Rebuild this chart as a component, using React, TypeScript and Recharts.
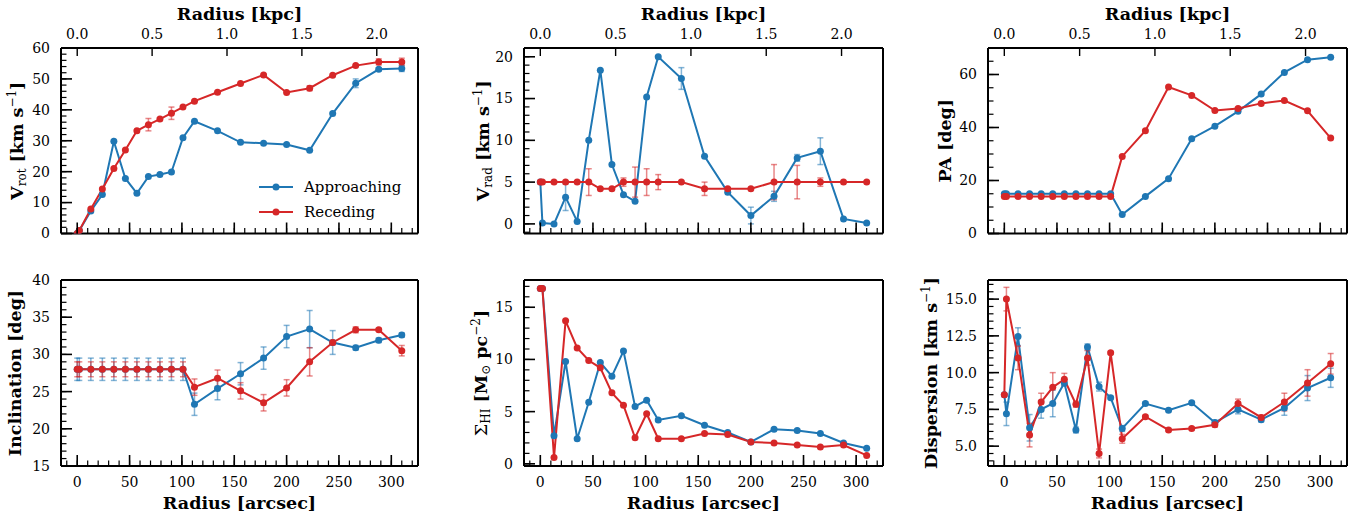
import React from 'react';
import { ComposedChart, Line, XAxis, YAxis, ErrorBar, Legend } from 'recharts';

// radius of each ring, arcsec
const radius = [0, 2, 13, 24, 35, 46, 57, 68, 79, 90, 101, 112, 134, 156, 178, 200, 222, 244, 266, 288, 310];
const KPC_PER_ARCSEC = 0.00699;

// rotation velocity
const vrotApp = [0, 1.0, 7.3, 12.6, 29.8, 17.8, 13.0, 18.4, 19.1, 19.9, 31.0, 36.3, 33.2, 29.5, 29.2, 28.8, 26.9, 38.8, 48.6, 53.1, 53.4];
const vrotAppErr = [0, 0, 0, 0, 0, 0, 0, 0, 0, 0, 0, 0, 0, 0, 0, 0, 0, 0, 1.4, 0.5, 1.0];
const vrotRec = [0, 1.0, 7.9, 14.4, 21.0, 27.0, 33.2, 35.2, 37.0, 38.9, 40.9, 42.8, 45.7, 48.5, 51.3, 45.6, 47.0, 51.2, 54.3, 55.5, 55.5];
const vrotRecErr = [0, 0, 0, 0, 0, 0, 0, 2.0, 0, 2.0, 0, 0, 0, 0, 0, 0, 0.8, 0, 0, 1.0, 1.2];

// radial velocity
const vradApp = [5.0, 0.1, 0.0, 3.2, 0.3, 10.0, 18.4, 7.1, 3.5, 2.7, 15.2, 20.0, 17.4, 8.1, 3.8, 1.0, 3.3, 7.9, 8.7, 0.6, 0.1];
const vradAppErr = [0, 0, 0, 1.6, 0, 0, 0, 0, 0, 0, 0, 0, 1.3, 0, 0, 1.0, 0.6, 0.4, 1.6, 0, 0];
const vradRec = [5, 5, 5, 5, 5, 5, 4.2, 4.2, 5, 5, 5, 5, 5, 4.2, 4.2, 4.2, 5, 5, 5, 5, 5];
const vradRecErr = [0, 0, 0, 0, 0, 1.6, 0, 0, 0.5, 1.8, 1.6, 0.9, 0, 0.8, 0, 0, 2.1, 2.0, 0.5, 0, 0];

// position angle
const paApp = [15, 15, 15, 15, 15, 15, 15, 15, 15, 15, 15, 7.2, 14.0, 20.7, 35.8, 40.5, 46.1, 52.6, 60.8, 65.6, 66.5];
const paRec = [14, 14, 14, 14, 14, 14, 14, 14, 14, 14, 14, 29.1, 38.8, 55.3, 52.1, 46.4, 47.2, 49.1, 50.2, 46.3, 36.0];

// inclination
const incApp = [28, 28, 28, 28, 28, 28, 28, 28, 28, 28, 28, 23.3, 25.4, 27.4, 29.5, 32.4, 33.4, 31.6, 30.9, 31.9, 32.6];
const incAppErr = [1.5, 1.5, 1.5, 1.5, 1.5, 1.5, 1.5, 1.5, 1.5, 1.5, 1.5, 1.5, 1.5, 1.5, 1.5, 1.5, 2.5, 1.6, 0.3, 0.3, 0.3];
const incRec = [28, 28, 28, 28, 28, 28, 28, 28, 28, 28, 28, 25.6, 26.8, 25.1, 23.5, 25.5, 29.0, 31.6, 33.3, 33.3, 30.5];
const incRecErr = [1.0, 1.0, 1.0, 1.0, 1.0, 1.0, 1.0, 1.0, 1.0, 1.0, 1.0, 1.1, 1.1, 1.1, 1.1, 1.1, 1.9, 0.3, 0.4, 0.2, 0.7];

// HI surface density
const sigApp = [16.8, 16.8, 2.7, 9.8, 2.4, 5.9, 9.7, 8.4, 10.8, 5.5, 6.1, 4.2, 4.6, 3.7, 3.0, 2.1, 3.3, 3.2, 2.9, 2.0, 1.5];
const sigRec = [16.8, 16.8, 0.6, 13.7, 11.1, 9.9, 9.2, 6.8, 5.6, 2.5, 4.8, 2.4, 2.4, 2.9, 2.8, 2.1, 2.0, 1.8, 1.6, 1.8, 0.8];

// velocity dispersion
const dispApp = [8.5, 7.2, 12.45, 6.25, 7.5, 7.9, 9.3, 6.1, 11.75, 9.05, 8.3, 6.2, 7.9, 7.45, 7.95, 6.6, 7.5, 6.8, 7.6, 8.95, 9.65];
const dispAppErr = [0, 0.8, 0.6, 0.9, 0.6, 0.9, 0.2, 0.2, 0.2, 0.3, 0.1, 0.2, 0.1, 0.1, 0.1, 0.15, 0.3, 0.15, 0.5, 0.85, 0.65];
const dispRec = [8.5, 15.0, 11.0, 5.75, 8.0, 9.0, 9.55, 7.85, 11.0, 4.5, 11.35, 5.5, 7.0, 6.1, 6.2, 6.45, 7.9, 6.95, 8.0, 9.3, 10.6];
const dispRecErr = [0, 0.8, 0.8, 0.8, 0.6, 1.0, 0.4, 0.2, 0.5, 0.3, 0.1, 0.3, 0.1, 0.1, 0.1, 0.15, 0.3, 0.15, 0.6, 0.9, 0.7];

const xTicks = [0, 50, 100, 150, 200, 250, 300];
const kpcTicks = [0, 0.5, 1.0, 1.5, 2.0];

const BLUE = '#1f77b4';
const RED = '#d62728';
const BLUE_ERR = 'rgba(31,119,180,0.55)';
const RED_ERR = 'rgba(214,39,40,0.55)';
const FONT = "'DejaVu Serif', serif";
const TICK_FS = 14;
const TITLE_FS = 17.5;
const SUB = 12;

const W = 1363;
const H = 519;
const colX = [61, 524, 988];
const colW = [357, 359, 359];
const rowY = [48, 280];
const rowH = [185.5, 186];
const X_DOMAIN: [number, number] = [-15.5, 325.5];
const KPC_DOMAIN: [number, number] = [X_DOMAIN[0] * KPC_PER_ARCSEC, X_DOMAIN[1] * KPC_PER_ARCSEC];
// axes need a non-zero size to be drawn, keep it tiny
const AX = 0.01;

const steps = (a: number, b: number, s: number) => {
  const out: number[] = [];
  for (let v = a; v <= b + 1e-9; v += s) out.push(Math.round(v * 1000) / 1000);
  return out;
};

const spine = { stroke: '#000', strokeWidth: 2 };
const MAJ = 11;
const MIN = 5.5;

const bottomTick = (margin: number, len: number, label: boolean) => (props: any) => {
  const { x, y, payload } = props;
  const ay = y - margin;
  return (
    <g>
      <line x1={x} x2={x} y1={ay} y2={ay - len} stroke="#000" strokeWidth={len > 8 ? 1.6 : 1.2} />
      {label ? (
        <text x={x} y={y} dy="0.71em" textAnchor="middle" fontFamily={FONT} fontSize={TICK_FS} fill="#000">
          {payload.value}
        </text>
      ) : null}
    </g>
  );
};

const topTick = (margin: number) => (props: any) => {
  const { x, y, payload } = props;
  const ay = y + margin;
  return (
    <g>
      <line x1={x} x2={x} y1={ay} y2={ay + 8} stroke="#000" strokeWidth={1.4} />
      <text x={x} y={y} textAnchor="middle" fontFamily={FONT} fontSize={TICK_FS} fill="#000">
        {Number(payload.value).toFixed(1)}
      </text>
    </g>
  );
};

const leftTick = (margin: number, len: number, label: boolean, fmt?: (v: number) => string) => (props: any) => {
  const { x, y, payload } = props;
  const ax = x + margin;
  return (
    <g>
      <line x1={ax} x2={ax + len} y1={y} y2={y} stroke="#000" strokeWidth={len > 8 ? 1.6 : 1.2} />
      {label ? (
        <text x={x} y={y} dy="0.35em" textAnchor="end" fontFamily={FONT} fontSize={TICK_FS} fill="#000">
          {fmt ? fmt(payload.value) : payload.value}
        </text>
      ) : null}
    </g>
  );
};

const VelLabel = ({ sub }: { sub: string }) => (
  <>
    V
    <tspan fontSize={SUB} fontWeight="normal" dy={3}>{sub}</tspan>
    <tspan dy={-3}> [km s</tspan>
    <tspan fontSize={SUB} fontWeight="normal" dy={-7}>−1</tspan>
    <tspan dy={7}>]</tspan>
  </>
);

const yTitles: Record<string, React.ReactNode> = {
  vrot: <VelLabel sub="rot" />,
  vrad: <VelLabel sub="rad" />,
  pa: 'PA [deg]',
  inc: 'Inclination [deg]',
  sig: (
    <>
      <tspan fontWeight="normal">Σ</tspan>
      <tspan fontSize={SUB} fontWeight="normal" dy={3}>HI</tspan>
      <tspan dy={-3}> [M</tspan>
      <tspan fontSize={SUB} fontWeight="normal" dy={3}>⊙</tspan>
      <tspan dy={-3}> pc</tspan>
      <tspan fontSize={SUB} fontWeight="normal" dy={-7}>−2</tspan>
      <tspan dy={7}>]</tspan>
    </>
  ),
  disp: (
    <>
      Dispersion [km s
      <tspan fontSize={SUB} fontWeight="normal" dy={-7}>−1</tspan>
      <tspan dy={7}>]</tspan>
    </>
  ),
};

const renderLegend = (props: any) => {
  const items = props.payload || [];
  return (
    <div style={{ fontFamily: FONT, fontSize: 15, color: '#000' }}>
      {items.map((it: any) => (
        <div key={it.value} style={{ display: 'flex', alignItems: 'center', height: 25 }}>
          <svg width={34} height={10} style={{ marginRight: 11 }}>
            <line x1={0} x2={34} y1={5} y2={5} stroke={it.color} strokeWidth={2} />
            <circle cx={17} cy={5} r={3.5} fill={it.color} />
          </svg>
          <span>{it.value}</span>
        </div>
      ))}
    </div>
  );
};

type PanelProps = {
  col: number;
  row: number;
  app: number[];
  rec: number[];
  appErr?: number[];
  recErr?: number[];
  yDomain: [number, number];
  yTicks: number[];
  yMinor: number[];
  yFmt?: (v: number) => string;
  title: string;
  titleX: number;
  legend?: boolean;
};

function Panel(p: PanelProps) {
  const x0 = colX[p.col];
  const w = colW[p.col];
  const y0 = rowY[p.row];
  const h = rowH[p.row];
  const top = p.row === 0;
  const cx = x0 + w / 2;
  const cy = y0 + h / 2;
  const data = radius.map((r, i) => ({
    r,
    app: p.app[i],
    rec: p.rec[i],
    appErr: p.appErr ? p.appErr[i] : 0,
    recErr: p.recErr ? p.recErr[i] : 0,
  }));

  return (
    <div style={{ position: 'absolute', left: 0, top: 0 }}>
      <ComposedChart
        width={W}
        height={H}
        data={data}
        margin={{ left: x0 - 2 * AX, top: y0 - AX, right: W - x0 - w - AX, bottom: H - y0 - h - 2 * AX }}
      >
        <Line
          xAxisId="b"
          yAxisId="l"
          dataKey="app"
          name="Approaching"
          type="linear"
          stroke={BLUE}
          strokeWidth={2}
          dot={{ r: 3.5, fill: BLUE, stroke: BLUE, strokeWidth: 0 }}
          activeDot={false}
          isAnimationActive={false}
        >
          <ErrorBar dataKey="appErr" direction="y" width={3} stroke={BLUE_ERR} strokeWidth={1.5} isAnimationActive={false} />
        </Line>
        <Line
          xAxisId="b"
          yAxisId="l"
          dataKey="rec"
          name="Receding"
          type="linear"
          stroke={RED}
          strokeWidth={2}
          dot={{ r: 3.5, fill: RED, stroke: RED, strokeWidth: 0 }}
          activeDot={false}
          isAnimationActive={false}
        >
          <ErrorBar dataKey="recErr" direction="y" width={3} stroke={RED_ERR} strokeWidth={1.5} isAnimationActive={false} />
        </Line>

        <XAxis
          xAxisId="b"
          dataKey="r"
          type="number"
          orientation="bottom"
          domain={X_DOMAIN}
          allowDataOverflow
          ticks={xTicks}
          interval={0}
          height={AX}
          tickSize={0}
          tickLine={false}
          tickMargin={11}
          axisLine={spine}
          tick={bottomTick(11, MAJ, !top)}
          label={
            top
              ? undefined
              : {
                  content: () => (
                    <text x={cx} y={509} textAnchor="middle" fontFamily={FONT} fontSize={TITLE_FS} fontWeight="bold" fill="#000">
                      Radius [arcsec]
                    </text>
                  ),
                }
          }
        />
        <XAxis
          xAxisId="bm"
          dataKey="r"
          type="number"
          orientation="bottom"
          domain={X_DOMAIN}
          allowDataOverflow
          ticks={steps(-10, 320, 10)}
          interval={0}
          height={AX}
          tickSize={0}
          tickLine={false}
          tickMargin={11}
          axisLine={false}
          tick={bottomTick(11, MIN, false)}
        />
        <XAxis
          xAxisId="t"
          dataKey="r"
          type="number"
          orientation="top"
          domain={KPC_DOMAIN}
          allowDataOverflow
          ticks={top ? kpcTicks : []}
          interval={0}
          height={AX}
          tickSize={0}
          tickLine={false}
          tickMargin={9.5}
          axisLine={spine}
          tick={top ? topTick(9.5) : false}
          label={
            top
              ? {
                  content: () => (
                    <text x={cx} y={19.5} textAnchor="middle" fontFamily={FONT} fontSize={TITLE_FS} fontWeight="bold" fill="#000">
                      Radius [kpc]
                    </text>
                  ),
                }
              : undefined
          }
        />
        <YAxis
          yAxisId="l"
          type="number"
          orientation="left"
          domain={p.yDomain}
          allowDataOverflow
          ticks={p.yTicks}
          interval={0}
          width={AX}
          tickSize={0}
          tickLine={false}
          tickMargin={11}
          axisLine={spine}
          tick={leftTick(11, MAJ, true, p.yFmt)}
          label={{
            content: () => (
              <text
                transform={`translate(${p.titleX},${cy}) rotate(-90)`}
                textAnchor="middle"
                fontFamily={FONT}
                fontSize={TITLE_FS}
                fontWeight="bold"
                fill="#000"
              >
                {yTitles[p.title]}
              </text>
            ),
          }}
        />
        <YAxis
          yAxisId="lm"
          type="number"
          orientation="left"
          domain={p.yDomain}
          allowDataOverflow
          ticks={p.yMinor}
          interval={0}
          width={AX}
          tickSize={0}
          tickLine={false}
          tickMargin={11}
          axisLine={false}
          tick={leftTick(11, MIN, false)}
        />
        <YAxis
          yAxisId="r"
          type="number"
          orientation="right"
          domain={p.yDomain}
          allowDataOverflow
          width={AX}
          tick={false}
          tickLine={false}
          axisLine={spine}
        />
        {p.legend ? (
          <Legend
            content={renderLegend}
            layout="horizontal"
            verticalAlign="middle"
            align="center"
            wrapperStyle={{ left: 259, top: 174, width: 160 }}
          />
        ) : null}
      </ComposedChart>
    </div>
  );
}

const fmt1 = (v: number) => v.toFixed(1);

export default function App() {
  return (
    <div style={{ position: 'absolute', left: 0, top: 0, width: W, height: H, background: '#fff', overflow: 'hidden' }}>
      <Panel col={0} row={0} app={vrotApp} rec={vrotRec} appErr={vrotAppErr} recErr={vrotRecErr}
        yDomain={[0, 60]} yTicks={[0, 10, 20, 30, 40, 50, 60]} yMinor={steps(0, 60, 2)} title="vrot" titleX={22.5} legend />
      <Panel col={1} row={0} app={vradApp} rec={vradRec} appErr={vradAppErr} recErr={vradRecErr}
        yDomain={[-1.15, 21.05]} yTicks={[0, 5, 10, 15, 20]} yMinor={steps(-1, 21, 1)} title="vrad" titleX={488.5} />
      <Panel col={2} row={0} app={paApp} rec={paRec}
        yDomain={[0, 70]} yTicks={[0, 20, 40, 60]} yMinor={steps(0, 70, 5)} title="pa" titleX={951} />
      <Panel col={0} row={1} app={incApp} rec={incRec} appErr={incAppErr} recErr={incRecErr}
        yDomain={[15, 40]} yTicks={[15, 20, 25, 30, 35, 40]} yMinor={steps(15, 40, 1)} title="inc" titleX={21} />
      <Panel col={1} row={1} app={sigApp} rec={sigRec}
        yDomain={[-0.21, 17.61]} yTicks={[0, 5, 10, 15]} yMinor={steps(0, 17, 1)} title="sig" titleX={486.5} />
      <Panel col={2} row={1} app={dispApp} rec={dispRec} appErr={dispAppErr} recErr={dispRecErr}
        yDomain={[3.65, 16.3]} yTicks={[5, 7.5, 10, 12.5, 15]} yMinor={steps(4, 16, 0.5)} yFmt={fmt1} title="disp" titleX={936.5} />
    </div>
  );
}
